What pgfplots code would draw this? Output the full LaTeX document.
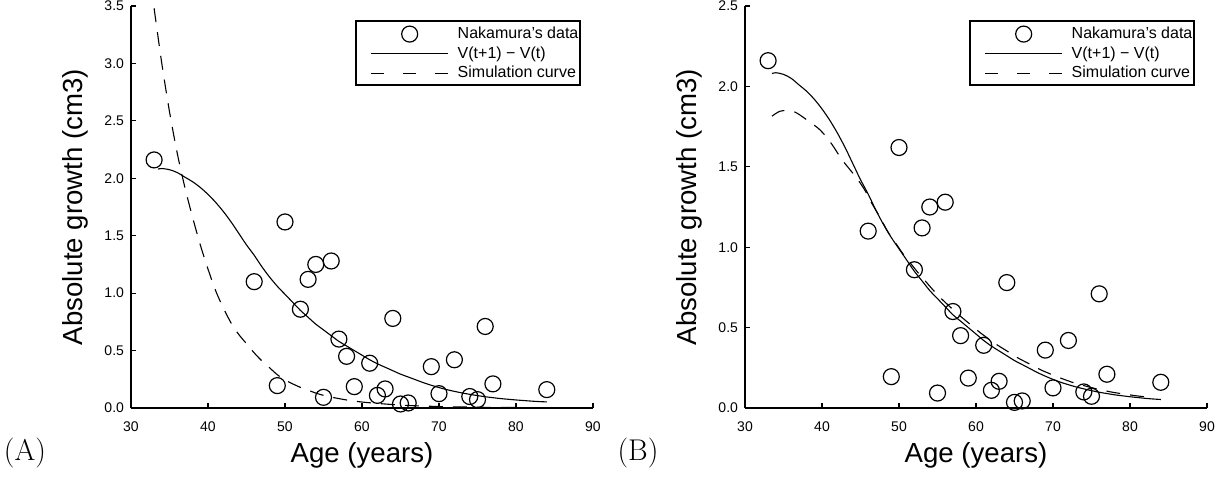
\documentclass[border=0pt]{standalone}
\usepackage{fontspec}
\usepackage{pgfplots}
\pgfplotsset{compat=1.18}
\newfontfamily\arial{Liberation Sans}
\pgfplotsset{
  panel/.style={
    scale only axis, width=231pt, height=201pt, anchor=south west,
    xmin=30, xmax=90, ymin=0,
    axis lines*=left,
    axis line style={-, line width=0.65pt, black},
    xtick={30,40,...,90},
    tick align=inside, major tick length=2.5pt,
    tick style={line width=0.6pt, black},
    /pgf/number format/assume math mode=true,
    ticklabel style={font=\arial\fontsize{7}{8}\selectfont},
    xticklabel style={yshift=-3.2pt},
    yticklabel style={/pgf/number format/.cd, fixed, fixed zerofill, precision=1},
    xlabel={Age (years)}, ylabel={Absolute growth (cm3)},
    label style={font=\arial\fontsize{13.8}{16}\selectfont},
    xlabel style={at={(axis description cs:0.5,-0.119)}, anchor=center},
    ylabel style={at={(axis description cs:-0.121,0.5)}, anchor=center},
    legend style={at={(axis description cs:0.974,0.965)}, anchor=north east,
      draw=black, line width=1pt, font=\arial\fontsize{8}{9}\selectfont,
      inner xsep=0.8pt, inner ysep=2.2pt, row sep=1.6pt,
      nodes={inner sep=0pt, text height=6.2pt, text depth=1.8pt},
      /tikz/every odd column/.style={column sep=4.5pt}},
    legend cell align=left,
  },
  dat/.style={only marks, mark=o, mark size=4pt, black, mark options={line width=0.6pt},
    legend image code/.code={\path[draw=none] (-7pt,0pt) -- (38.5pt,0pt); \draw[black, line width=0.6pt] (19.25pt,0pt) circle (4pt);}},
  sol/.style={black, line width=0.55pt, no marks, smooth,
    legend image code/.code={\path[draw=none] (-7pt,0pt); \draw[##1] (0pt,0pt) -- (38.5pt,0pt);}},
  sim/.style={black, line width=0.55pt, no marks, smooth, dash pattern=on 7pt off 5pt,
    legend image code/.code={\path[draw=none] (-7pt,0pt); \draw[##1, dash pattern=on 6.5pt off 9.5pt] (0pt,0pt) -- (38.5pt,0pt);}},
}
\pgfplotstableread{
x y
33 2.16
46 1.10
49 0.195
50 1.62
52 0.86
53 1.12
54 1.25
55 0.093
56 1.28
57 0.60
58 0.45
59 0.186
61 0.39
62 0.11
63 0.166
64 0.78
65 0.035
66 0.044
69 0.36
70 0.125
72 0.42
74 0.10
75 0.073
76 0.71
77 0.21
84 0.16
}\pts
\pgfplotstableread{
x y
33.5 2.08
34 2.085
35 2.075
36 2.05
37 2.01
38 1.97
39 1.92
40 1.86
41 1.79
42 1.71
43 1.62
44 1.52
45 1.42
46 1.33
47 1.23
48 1.14
49 1.06
50 0.99
51 0.92
52 0.85
53 0.79
54 0.73
55 0.68
56 0.63
57 0.58
58 0.54
59 0.50
60 0.46
61 0.42
62 0.385
63 0.355
64 0.325
65 0.295
66 0.27
67 0.245
68 0.22
69 0.198
70 0.178
71 0.16
72 0.145
73 0.131
74 0.119
75 0.108
76 0.098
77 0.09
78 0.082
79 0.076
80 0.07
81 0.065
82 0.06
83 0.056
84 0.053
}\solid
\pgfplotstableread{
x y
33 3.48
34 3.0
35 2.58
36 2.22
37 1.92
38 1.66
39 1.42
40 1.21
41 1.02
42 0.87
43 0.74
44 0.64
45 0.56
46 0.48
47 0.41
48 0.35
49 0.29
50 0.245
51 0.21
52 0.18
53 0.155
54 0.13
55 0.11
56 0.095
57 0.082
58 0.07
60 0.052
62 0.04
64 0.03
66 0.022
68 0.017
70 0.013
72 0.01
74 0.008
76 0.006
78 0.005
80 0.004
82 0.003
}\simA
\pgfplotstableread{
x y
33.5 1.815
34.5 1.845
35.5 1.85
36.5 1.84
37.5 1.81
38.5 1.775
39.5 1.74
40.5 1.69
41.5 1.625
42.5 1.55
43.5 1.49
44.5 1.43
45.5 1.36
46.5 1.27
47.5 1.19
48.5 1.10
49.5 1.03
50.5 0.96
51.5 0.90
52.5 0.84
53.5 0.785
54.5 0.73
55.5 0.68
56.5 0.635
57.5 0.59
58.5 0.55
59.5 0.51
60.5 0.47
61.5 0.435
62.5 0.40
63.5 0.37
64.5 0.34
65.5 0.31
66.5 0.285
67.5 0.26
68.5 0.235
69.5 0.215
70.5 0.195
71.5 0.177
72.5 0.16
73.5 0.146
74.5 0.133
75.5 0.121
76.5 0.11
77.5 0.10
78.5 0.092
79.5 0.085
80.5 0.078
81.5 0.072
82.5 0.067
}\simB
\begin{document}
\begin{tikzpicture}
\useasboundingbox (0,0) rectangle (616pt,242pt);
\begin{axis}[panel, at={(65.5pt,38pt)}, ymax=3.5, ytick={0,0.5,...,3.5}]
\addplot[dat] table {\pts};
\addlegendentry{Nakamura’s data}
\addplot[sol] table {\solid};
\addlegendentry{V(t+1) − V(t)}
\addplot[sim] table {\simA};
\addlegendentry{Simulation curve}
\end{axis}
\begin{axis}[panel, at={(372.5pt,38pt)}, ymax=2.5, ytick={0,0.5,...,2.5}]
\addplot[dat] table {\pts};
\addlegendentry{Nakamura’s data}
\addplot[sol] table {\solid};
\addlegendentry{V(t+1) − V(t)}
\addplot[sim] table {\simB};
\addlegendentry{Simulation curve}
\end{axis}
\node[font=\fontsize{15}{17}\selectfont] at (12.5pt,15.5pt) {(A)};
\node[font=\fontsize{15}{17}\selectfont] at (319pt,15.5pt) {(B)};
\end{tikzpicture}
\end{document}
